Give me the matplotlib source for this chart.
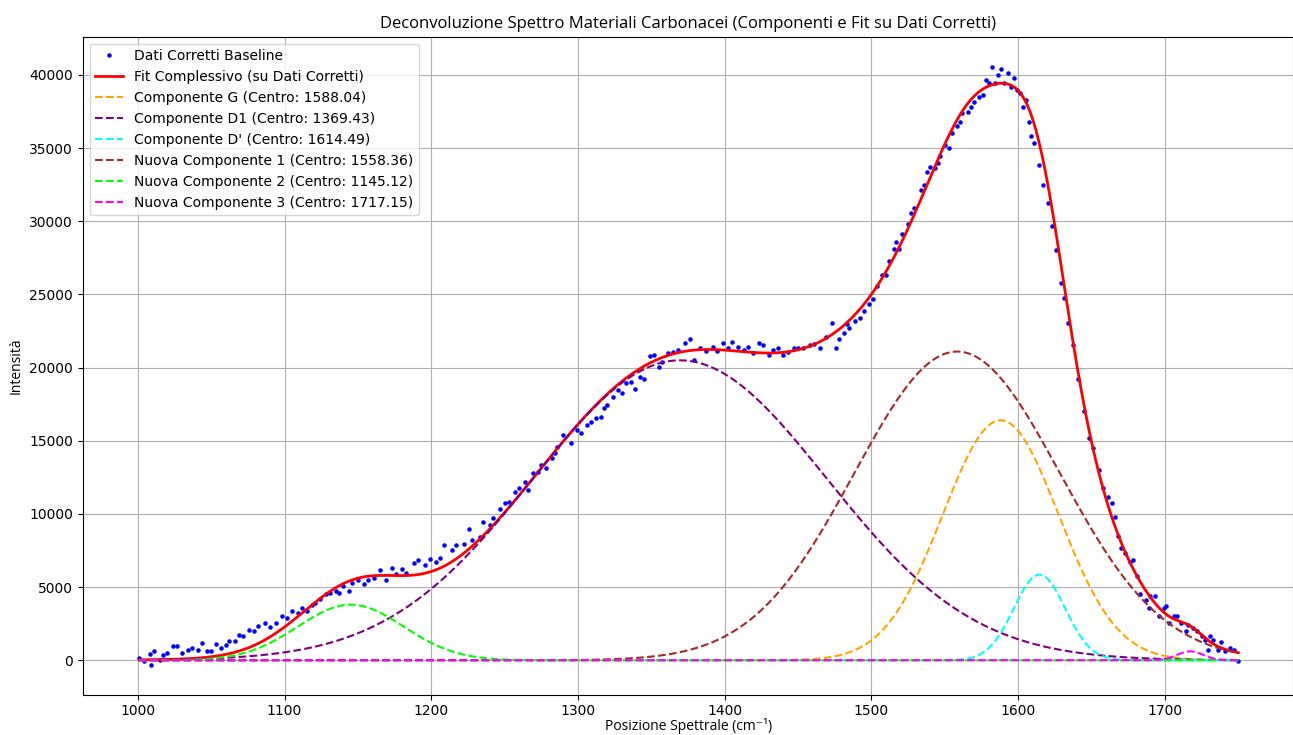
import numpy as np
import matplotlib
matplotlib.use("Agg")
import matplotlib.pyplot as plt

# Baseline-corrected spectrum (position, intensity)
pos = [1001, 1004, 1008, 1009, 1011, 1015, 1017, 1020, 1024, 1027, 1030, 1034, 1037, 1041,
       1044, 1047, 1050, 1053, 1057, 1060, 1062, 1066, 1069, 1072, 1076, 1079, 1082, 1087,
       1090, 1094, 1098, 1102, 1105, 1109, 1112, 1115, 1119, 1121, 1124, 1128, 1131, 1135,
       1137, 1140, 1144, 1146, 1150, 1154, 1157, 1161, 1165, 1169, 1173, 1176, 1180, 1183,
       1188, 1191, 1196, 1199, 1203, 1206, 1209, 1214, 1217, 1222, 1226, 1228, 1233, 1235,
       1240, 1242, 1247, 1250, 1253, 1257, 1260, 1264, 1266, 1269, 1273, 1275, 1278, 1282,
       1284, 1286, 1290, 1295, 1299, 1302, 1306, 1309, 1312, 1316, 1318, 1320, 1324, 1327,
       1330, 1333, 1336, 1339, 1342, 1345, 1349, 1352, 1355, 1357, 1361, 1365, 1368, 1373,
       1376, 1379, 1383, 1387, 1392, 1395, 1399, 1402, 1405, 1409, 1413, 1416, 1419, 1423,
       1426, 1430, 1433, 1436, 1440, 1443, 1447, 1450, 1453, 1458, 1461, 1465, 1469, 1473,
       1476, 1478, 1481, 1483, 1485, 1489, 1492, 1495, 1498, 1501, 1504, 1507, 1510, 1512,
       1515, 1517, 1519, 1521, 1525, 1527, 1529, 1534, 1536, 1538, 1540, 1543, 1545, 1547,
       1550, 1553, 1555, 1558, 1560, 1562, 1566, 1568, 1570, 1573, 1576, 1578, 1580, 1582,
       1584, 1586, 1588, 1590, 1593, 1595, 1597, 1599, 1601, 1603, 1605, 1607, 1609, 1611,
       1614, 1617, 1620, 1623, 1626, 1629, 1631, 1634, 1637, 1641, 1645, 1648, 1651, 1655,
       1658, 1661, 1664, 1666, 1668, 1670, 1673, 1676, 1678, 1681, 1683, 1687, 1689, 1690,
       1693, 1696, 1699, 1701, 1703, 1706, 1708, 1711, 1714, 1716, 1719, 1722, 1725, 1727,
       1729, 1731, 1733, 1736, 1738, 1741, 1744, 1747, 1750]
intensity = [160, -20, 430, -300, 620, 50, 390, 500, 960, 960, 500, 730, 840, 730,
             1190, 660, 620, 1120, 840, 1070, 1350, 1300, 1760, 1640, 2100, 1990, 2330, 2560,
             2260, 2560, 3010, 2900, 3360, 3240, 3580, 3360, 3810, 3930, 4220, 4500, 4610, 4730,
             4610, 5070, 4730, 5300, 5520, 5180, 5520, 5640, 6140, 5520, 6280, 5870, 6210, 5980,
             6670, 6830, 6510, 6890, 6700, 6960, 7900, 7530, 7870, 7980, 8960, 8210, 8440, 9470,
             9240, 9740, 10330, 10720, 10830, 11520, 11750, 12200, 11630, 12770, 12890, 13340, 13110, 13800,
             14140, 14600, 15390, 14820, 15740, 15510, 16080, 16310, 16530, 16650, 17220, 17450, 18020, 18470,
             18240, 18930, 19040, 18520, 19380, 19220, 20820, 20870, 20070, 20410, 20980, 21090, 21210, 21660,
             21960, 20520, 21320, 21160, 21440, 21140, 21660, 21320, 21780, 21440, 21210, 21440, 20980, 21660,
             21550, 20870, 21210, 21320, 20870, 21090, 21320, 21370, 21360, 21520, 21590, 21360, 22110, 23020,
             21360, 21930, 22390, 22950, 22730, 23180, 23410, 23860, 24320, 24660, 25610, 26300, 26300, 27270,
             28110, 28570, 28110, 29160, 29840, 30570, 30910, 32110, 32500, 33340, 33700, 33630, 33980, 34430,
             35230, 35040, 36020, 36480, 36820, 37390, 37500, 37840, 38180, 38520, 38640, 39660, 39430, 40570,
             39430, 40000, 40390, 39430, 40160, 39200, 39770, 38980, 38750, 37840, 38300, 36820, 35800, 35340,
             33860, 32500, 31250, 29660, 28070, 25800, 24770, 23070, 21520, 19250, 17020, 15160, 14480, 13000,
             11750, 11180, 10730, 9820, 8460, 7700, 7320, 6750, 6860, 5730, 4520, 4140, 3570, 4360,
             4360, 3000, 3570, 3680, 2550, 3000, 3000, 2550, 1980, 2430, 2200, 1980, 1640, 1410,
             730, 1640, 1410, 730, 1250, 610, 840, 730, -70]

# Gaussian components
comp_names = ["Componente G", "Componente D1", "Componente D'",
              "Nuova Componente 1", "Nuova Componente 2", "Nuova Componente 3"]
comp_centers = [1588.04, 1369.43, 1614.49, 1558.36, 1145.12, 1717.15]
comp_amps = [16400, 20500, 5850, 21100, 3800, 610]
comp_sigmas = [39.5, 100.0, 17.5, 70.0, 36.0, 9.0]
comp_colors = ["orange", "purple", "cyan", "brown", "lime", "magenta"]


def gaussian(x, amp, cen, sig):
    return amp * np.exp(-(x - cen) ** 2 / (2 * sig ** 2))


x_fit = np.linspace(min(pos), max(pos), 751)
components = [gaussian(x_fit, a, c, s) for a, c, s in zip(comp_amps, comp_centers, comp_sigmas)]
total_fit = np.sum(components, axis=0)

fig = plt.figure(figsize=(12.93, 7.35), dpi=100)
ax = fig.add_axes([0.064, 0.055, 0.9363, 0.895])

ax.plot(pos, intensity, "b.", markersize=4.5, label="Dati Corretti Baseline")
ax.plot(x_fit, total_fit, color="red", linewidth=2, label="Fit Complessivo (su Dati Corretti)")
for name, cen, comp, col in zip(comp_names, comp_centers, components, comp_colors):
    ax.plot(x_fit, comp, "--", color=col, linewidth=1.5, label=f"{name} (Centro: {cen:.2f})")

label_font = ["Open Sans", "DejaVu Sans"]
ax.set_title("Deconvoluzione Spettro Materiali Carbonacei (Componenti e Fit su Dati Corretti)",
             fontsize=12, family=label_font)
ax.set_xlabel("Posizione Spettrale (cm⁻¹)", family=label_font, labelpad=-0.5)
ax.set_ylabel("Intensità", family=label_font)
ax.set_xlim(962.5, 1787.5)
ax.grid(True)
ax.legend(loc="upper left")

fig.savefig("out.png", dpi=100)
